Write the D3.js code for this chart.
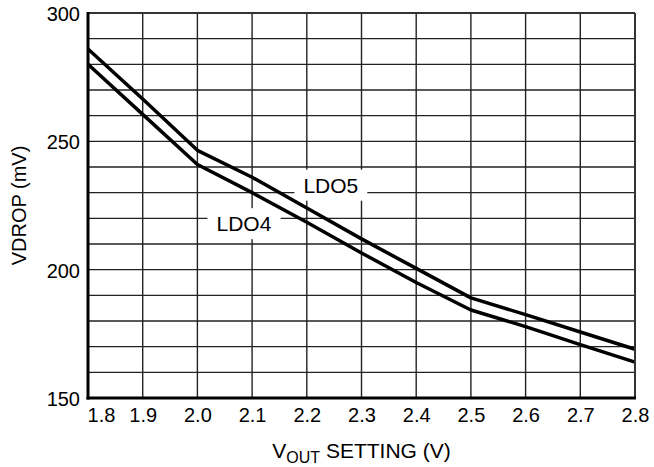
<!DOCTYPE html>
<html>
<head>
<meta charset="utf-8">
<script src="https://cdn.jsdelivr.net/npm/d3@7"></script>
<style>
  body { margin: 0; background: #fff; }
  text { font-family: "Liberation Sans", Arial, sans-serif; fill: #000; }
</style>
</head>
<body>
<svg id="chart" width="654" height="467"></svg>
<script>
// values
const vout = [1.8, 1.9, 2.0, 2.1, 2.2, 2.3, 2.4, 2.5, 2.6, 2.7, 2.8];
const ldo5 = [286, 266.5, 246.5, 236, 224, 212, 200.5, 189, 182.5, 175.7, 169];
const ldo4 = [280, 260.5, 241, 230, 218.5, 206.5, 195, 184.3, 177.8, 170.8, 164];
const xTicks = [1.8, 1.9, 2.0, 2.1, 2.2, 2.3, 2.4, 2.5, 2.6, 2.7, 2.8];
const yTicks = [150, 200, 250, 300];
const seriesLabels = [
  {name: "LDO5", x: 2.244, y: 230},
  {name: "LDO4", x: 2.085, y: 215}
];

const width = 654, height = 467;
const margin = {top: 13, right: 19, bottom: 69, left: 88};
const svg = d3.select("#chart");

const x = d3.scaleLinear().domain([1.8, 2.8]).range([margin.left, width - margin.right]);
const y = d3.scaleLinear().domain([150, 300]).range([height - margin.bottom, margin.top]);

// grid
const grid = svg.append("g").attr("stroke", "#222").attr("stroke-width", 1.4);
grid.selectAll(".gx").data(xTicks.slice(1)).enter().append("line")
  .attr("x1", d => x(d)).attr("x2", d => x(d))
  .attr("y1", y(150)).attr("y2", y(300));
grid.selectAll(".gy").data(d3.range(160, 301, 10)).enter().append("line")
  .attr("x1", x(1.8)).attr("x2", x(2.8))
  .attr("y1", d => y(d)).attr("y2", d => y(d));

// series label boxes (white, cover the grid)
const labs = svg.append("g");
seriesLabels.forEach(l => {
  const t = labs.append("text")
    .attr("x", x(l.x)).attr("y", y(l.y))
    .attr("text-anchor", "middle")
    .attr("font-size", 21)
    .text(l.name);
  const b = t.node().getBBox();
  labs.insert("rect", "text")
    .attr("x", b.x - 9).attr("y", b.y - 4)
    .attr("width", b.width + 18).attr("height", b.height + 8)
    .attr("fill", "#fff");
});

// curves
const line = d3.line().x((d, i) => x(vout[i])).y(d => y(d));
[ldo5, ldo4].forEach(s => {
  svg.append("path").datum(s)
    .attr("fill", "none").attr("stroke", "#000")
    .attr("stroke-width", 3.5).attr("stroke-linejoin", "round")
    .attr("d", line);
});

// axes
const xAxis = svg.append("g")
  .attr("transform", `translate(0,${height - margin.bottom})`)
  .call(d3.axisBottom(x).tickValues(xTicks).tickSize(0).tickPadding(10)
    .tickFormat(d3.format(".1f")));
xAxis.select(".domain").remove();
xAxis.selectAll("text").attr("font-size", 20).attr("font-family", null)
  .attr("dx", d => d === 1.8 ? 13 : 0);

const yAxis = svg.append("g")
  .attr("transform", `translate(${margin.left},0)`)
  .call(d3.axisLeft(y).tickValues(yTicks).tickSize(0).tickPadding(8));
yAxis.select(".domain").remove();
yAxis.selectAll("text").attr("font-size", 20).attr("font-family", null)
  .attr("dy", "0.38em");

// frame: thin top/right, thick left/bottom
svg.append("line").attr("x1", x(1.8)).attr("x2", x(2.8)).attr("y1", y(300)).attr("y2", y(300))
  .attr("stroke", "#333").attr("stroke-width", 2);
svg.append("line").attr("x1", x(2.8)).attr("x2", x(2.8)).attr("y1", y(300)).attr("y2", y(150))
  .attr("stroke", "#333").attr("stroke-width", 2);
svg.append("line").attr("x1", x(1.8)).attr("x2", x(1.8)).attr("y1", y(300) - 1).attr("y2", y(150) + 1.5)
  .attr("stroke", "#000").attr("stroke-width", 3);
svg.append("line").attr("x1", x(1.8) - 1.5).attr("x2", x(2.8) + 1).attr("y1", y(150)).attr("y2", y(150))
  .attr("stroke", "#000").attr("stroke-width", 3);

// axis titles
svg.append("text")
  .attr("transform", `translate(26,${(y(150) + y(300)) / 2}) rotate(-90)`)
  .attr("text-anchor", "middle").attr("font-size", 20)
  .text("VDROP (mV)");

const xt = svg.append("text")
  .attr("x", (x(1.8) + x(2.8)) / 2).attr("y", 458)
  .attr("text-anchor", "middle").attr("font-size", 21);
xt.append("tspan").text("V");
xt.append("tspan").attr("font-size", 16).attr("dy", 5).text("OUT");
xt.append("tspan").attr("dy", -5).text(" SETTING (V)");
</script>
</body>
</html>
